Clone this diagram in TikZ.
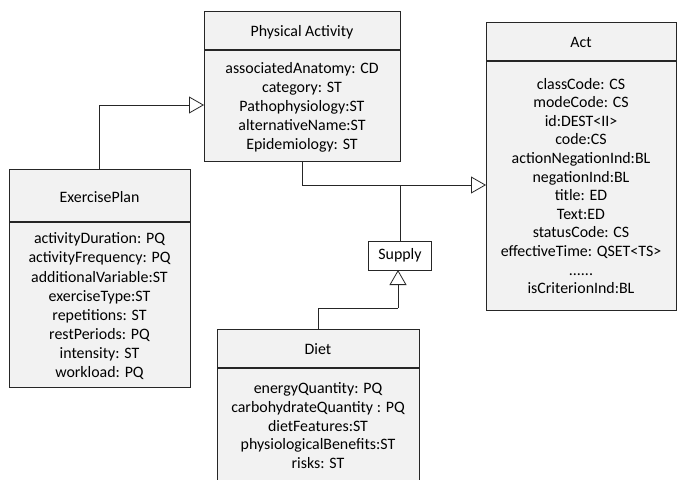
\documentclass[tikz,border=0pt]{standalone}
\usepackage{fontspec}
\setmainfont{Carlito}
\usetikzlibrary{arrows.meta}
\definecolor{boxfill}{HTML}{F2F2F2}
\definecolor{ink}{HTML}{262626}
\tikzset{
  cls/.style={draw=ink, line width=0.9pt, fill=boxfill, inner sep=0pt, outer sep=0pt, anchor=north west},
  div/.style={draw=ink, line width=1.4pt},
  txt/.style={inner sep=0pt, anchor=base, font=\fontsize{15.9}{19}\selectfont, text=black},
  gen/.style={draw=ink, line width=0.8pt, -{Triangle[open, length=15pt, width=17pt, fill=white]}},
  conn/.style={draw=ink, line width=0.8pt},
  supbox/.style={draw=ink, line width=0.9pt, fill=white, inner sep=0pt, minimum width=63pt, minimum height=29pt, font=\fontsize{15.9}{19}\selectfont}
}
\begin{document}
\begin{tikzpicture}[x=1pt, y=-1pt]
\useasboundingbox (0,0) rectangle (677,479);
\clip (0,0) rectangle (677,479);
% Physical Activity
\node[cls, minimum width=196pt, minimum height=150pt] (pa) at (204,11) {};
\draw[div] (204,50) -- (400,50);
\node[txt] (pah) at (302,36.5) {Physical Activity};
\foreach \t [count=\i from 0] in {{associatedAnatomy: CD}, {category: ST}, {Pathophysiology:ST}, {alternativeName:ST}, {Epidemiology: ST}}
  \node[txt] (pa\i) at (302,{73.5+19*\i}) {\t};
% Act
\node[cls, minimum width=190pt, minimum height=288pt] (act) at (486,22) {};
\draw[div] (486,61) -- (676,61);
\node[txt] (acth) at (581,47) {Act};
\foreach \t [count=\i from 0] in {{classCode: CS}, {modeCode: CS}, {id:DEST<II>}, {code:CS}, {actionNegationInd:BL}, {negationInd:BL}, {title: ED}, {Text:ED}, {statusCode: CS}, {effectiveTime: QSET<TS>}, {{......}}, {isCriterionInd:BL}}
  \node[txt] (act\i) at (581,{89+18.6*\i}) {\t};
% ExercisePlan
\node[cls, minimum width=181pt, minimum height=218pt] (ep) at (9,169) {};
\draw[div] (9,222) -- (190,222);
\node[txt] (eph) at (99.5,202.5) {ExercisePlan};
\foreach \t [count=\i from 0] in {{activityDuration: PQ}, {activityFrequency: PQ}, {additionalVariable:ST}, {exerciseType:ST}, {repetitions: ST}, {restPeriods: PQ}, {intensity: ST}, {workload: PQ}}
  \node[txt] (ep\i) at (99.5,{243.8+19.1*\i}) {\t};
% Diet
\node[cls, minimum width=202pt, minimum height=170pt] (diet) at (217,329) {};
\draw[div] (217,368) -- (419,368);
\node[txt] (dieth) at (318,354.5) {Diet};
\foreach \t [count=\i from 0] in {{energyQuantity: PQ}, {carbohydrateQuantity : PQ}, {dietFeatures:ST}, {physiologicalBenefits:ST}, {risks: ST}}
  \node[txt] (diet\i) at (318,{393.2+18.9*\i}) {\t};
% Supply
\node[supbox] (sup) at (400,255.5) {Supply};
% connectors
\coordinate (pain) at (204,105);
\coordinate (actin) at (486,185);
\coordinate (supin) at (398,270);
\coordinate (dk) at (398,308);
\draw[gen] (ep.north) |- (pain);
\draw[gen] (pa.south) |- (actin);
\draw[conn] (sup.north) -- (sup.north |- actin);
\draw[conn] (diet.north) |- (dk);
\draw[gen] (dk) -- (supin);
\end{tikzpicture}
\end{document}
